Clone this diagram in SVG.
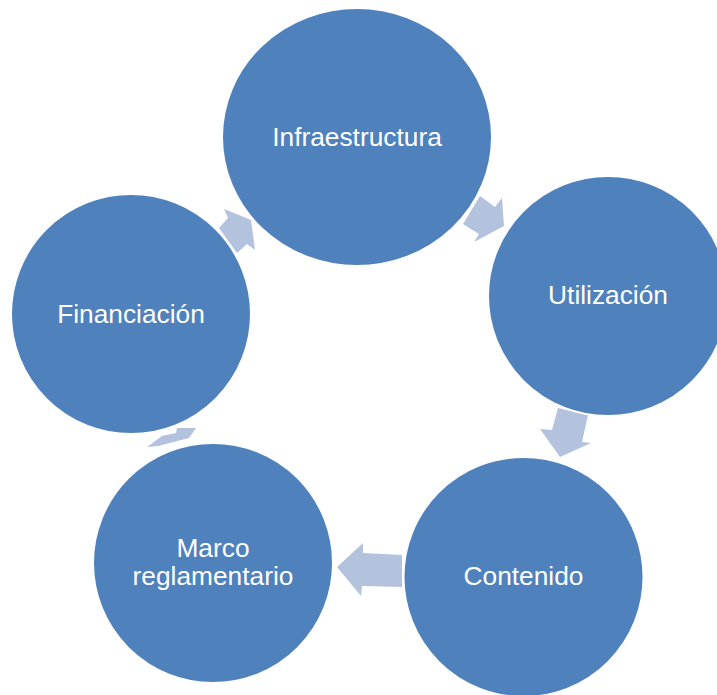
<svg xmlns="http://www.w3.org/2000/svg" width="717" height="695" viewBox="0 0 717 695">
  <style>
    .arrow { fill: #b3c2dd; stroke: none; }
    .node { fill: #4f81bd; stroke: #ffffff; stroke-width: 2; }
    .label { fill: #ffffff; font-family: "Liberation Sans", Arial, sans-serif; font-size: 26.3px; text-anchor: middle; }
  </style>
  <rect width="717" height="695" fill="#ffffff"/>
  <g id="connectors">
    <polygon class="arrow" points="480,196 495,207 502,198 504,226 474,242 479,234 463,224"/>
    <polygon class="arrow" points="558,408 588,415 582,442 591,443 560,457 540,429 552,430"/>
    <polygon class="arrow" points="402,555 363,553 363,543 337,567 361,596 362,586 402,587"/>
    <polygon class="arrow" points="147,447 162,436 176,433 177,428 196,428 189,438 158,446"/>
    <polygon class="arrow" points="224,209 251,220 255,250 247,244 237,253 219,228 228,218"/>
  </g>
  <g id="infraestructura">
    <ellipse class="node" cx="357" cy="137" rx="135" ry="129"/>
    <text class="label" x="357" y="146">Infraestructura</text>
  </g>
  <g id="utilizacion">
    <circle class="node" cx="608" cy="296" r="120"/>
    <text class="label" x="608" y="304">Utilización</text>
  </g>
  <g id="contenido">
    <circle class="node" cx="523.5" cy="577" r="120"/>
    <text class="label" x="523.5" y="585">Contenido</text>
  </g>
  <g id="marco">
    <circle class="node" cx="213" cy="563" r="120"/>
    <text class="label"><tspan x="213" y="557">Marco</tspan><tspan x="213" y="585">reglamentario</tspan></text>
  </g>
  <g id="financiacion">
    <circle class="node" cx="131" cy="314" r="120"/>
    <text class="label" x="131" y="323">Financiación</text>
  </g>
</svg>
